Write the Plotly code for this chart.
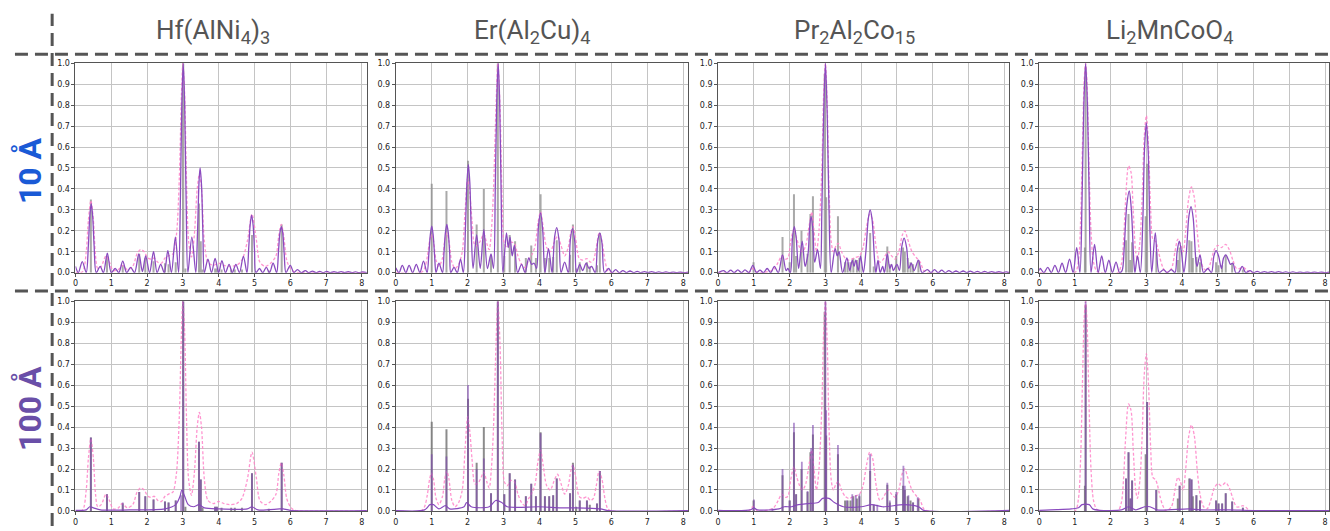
import plotly.graph_objects as go

# ---------------- data ----------------
materials = ["Hf(AlNi<sub>4</sub>)<sub>3</sub>", "Er(Al<sub>2</sub>Cu)<sub>4</sub>",
             "Pr<sub>2</sub>Al<sub>2</sub>Co<sub>15</sub>", "Li<sub>2</sub>MnCoO<sub>4</sub>"]
row_labels = ["10 Å", "100 Å"]
x_ticks = [0, 1, 2, 3, 4, 5, 6, 7, 8]
y_ticks = [0.0, 0.1, 0.2, 0.3, 0.4, 0.5, 0.6, 0.7, 0.8, 0.9, 1.0]

# reference sticks (gray) : (position, height)
hf_sticks = [(0.43,0.35),(0.88,0.08),(1.32,0.035),(1.78,0.09),(1.95,0.07),(2.18,0.055),(2.5,0.045),(2.6,0.04),
             (2.8,0.05),(3.01,1.0),(3.07,0.02),(3.45,0.33),(3.5,0.15),(3.55,0.015),(3.9,0.02),(3.95,0.02),
             (4.08,0.015),(4.35,0.015),(4.45,0.015),(4.65,0.015),(4.93,0.18),(5.4,0.01),(5.76,0.23)]
er_sticks = [(1.0,0.425),(1.41,0.39),(2.01,0.535),(2.25,0.23),(2.45,0.4),(2.65,0.085),(2.84,1.0),(3.02,0.08),
             (3.17,0.18),(3.32,0.15),(3.62,0.07),(3.77,0.13),(3.9,0.07),(4.03,0.375),(4.15,0.07),(4.27,0.07),
             (4.38,0.075),(4.48,0.155),(4.85,0.085),(4.93,0.23),(5.02,0.02),(5.12,0.05),(5.32,0.05),(5.4,0.03),
             (5.6,0.035),(5.68,0.19)]
pr_sticks = [(0.99,0.05),(1.8,0.17),(2.0,0.05),(2.12,0.375),(2.18,0.08),(2.33,0.2),(2.5,0.09),(2.58,0.28),
             (2.65,0.365),(2.98,0.95),(3.02,0.36),(3.35,0.27),(3.55,0.05),(3.62,0.05),(3.7,0.05),(3.78,0.07),
             (3.88,0.06),(3.95,0.07),(4.25,0.19),(4.35,0.03),(4.73,0.125),(4.8,0.04),(4.98,0.08),(5.17,0.12),
             (5.22,0.1),(5.3,0.07),(5.38,0.05),(5.45,0.04),(5.6,0.06)]
li_sticks = [(1.28,0.12),(1.3,0.98),(2.43,0.155),(2.5,0.28),(2.55,0.06),(2.6,0.145),(2.98,0.27),(3.02,0.52),
             (3.28,0.1),(3.88,0.06),(3.93,0.12),(4.2,0.155),(4.26,0.15),(4.3,0.07),(4.4,0.075),(4.5,0.05),
             (4.95,0.05),(5.02,0.035),(5.12,0.035),(5.22,0.085),(5.4,0.045),(5.7,0.015)]

# broad reference curve (pink dashed) : (x, y)
hf_pink = [(0,0),(0.2,0.005),(0.3,0.1),(0.36,0.25),(0.43,0.345),(0.5,0.25),(0.56,0.08),(0.62,0.02),(0.72,0.03),
           (0.85,0.08),(0.95,0.05),(1.05,0.01),(1.2,0.015),(1.3,0.035),(1.45,0.015),(1.6,0.03),(1.72,0.09),
           (1.82,0.11),(1.92,0.1),(2.02,0.07),(2.12,0.065),(2.2,0.07),(2.3,0.05),(2.4,0.045),(2.5,0.07),(2.6,0.08),
           (2.72,0.09),(2.82,0.18),(2.9,0.45),(2.96,0.85),(3.0,1.0),(3.05,0.85),(3.1,0.45),(3.16,0.15),(3.24,0.075),
           (3.32,0.18),(3.4,0.4),(3.46,0.47),(3.52,0.4),(3.6,0.15),(3.7,0.05),(3.85,0.035),(4.0,0.045),(4.15,0.035),
           (4.3,0.03),(4.5,0.035),(4.65,0.06),(4.8,0.15),(4.93,0.28),(5.05,0.16),(5.15,0.05),(5.3,0.03),(5.45,0.045),
           (5.6,0.08),(5.68,0.18),(5.75,0.23),(5.82,0.17),(5.9,0.06),(6.0,0.02),(6.1,0.005),(6.3,0),(8.14,0)]
er_pink = [(0,0),(0.7,0),(0.8,0.02),(0.88,0.08),(0.94,0.15),(0.99,0.18),(1.05,0.15),(1.12,0.06),(1.2,0.03),
           (1.3,0.07),(1.36,0.15),(1.42,0.19),(1.48,0.15),(1.56,0.05),(1.65,0.02),(1.75,0.04),(1.85,0.1),(1.93,0.3),
           (2.0,0.45),(2.06,0.38),(2.12,0.25),(2.2,0.13),(2.27,0.13),(2.35,0.15),(2.45,0.185),(2.53,0.14),(2.6,0.11),
           (2.66,0.2),(2.72,0.4),(2.79,0.8),(2.84,1.0),(2.9,0.8),(2.96,0.35),(3.02,0.14),(3.1,0.12),(3.2,0.145),
           (3.3,0.14),(3.4,0.08),(3.5,0.04),(3.6,0.025),(3.7,0.06),(3.8,0.09),(3.88,0.13),(3.96,0.24),(4.03,0.29),
           (4.1,0.22),(4.2,0.12),(4.3,0.1),(4.4,0.14),(4.5,0.175),(4.6,0.13),(4.7,0.08),(4.8,0.12),(4.87,0.19),
           (4.93,0.22),(5.0,0.17),(5.1,0.07),(5.2,0.06),(5.32,0.067),(5.42,0.05),(5.5,0.06),(5.58,0.12),(5.66,0.19),
           (5.74,0.15),(5.82,0.06),(5.9,0.01),(6.0,0),(8.14,0)]
pr_pink = [(0,0),(0.85,0),(0.97,0.02),(1.1,0.0),(1.4,0.005),(1.55,0.015),(1.68,0.05),(1.78,0.08),(1.88,0.065),
           (1.95,0.07),(2.03,0.15),(2.12,0.21),(2.2,0.16),(2.28,0.12),(2.36,0.1),(2.45,0.13),(2.55,0.23),(2.62,0.29),
           (2.68,0.2),(2.75,0.1),(2.82,0.2),(2.9,0.5),(2.95,0.85),(3.0,1.0),(3.05,0.8),(3.1,0.4),(3.16,0.15),
           (3.22,0.1),(3.3,0.13),(3.36,0.14),(3.45,0.1),(3.55,0.07),(3.65,0.06),(3.8,0.07),(3.95,0.08),(4.05,0.12),
           (4.15,0.22),(4.24,0.28),(4.32,0.25),(4.42,0.12),(4.52,0.05),(4.6,0.06),(4.75,0.1),(4.85,0.08),(4.95,0.065),
           (5.05,0.1),(5.15,0.18),(5.22,0.2),(5.3,0.16),(5.42,0.1),(5.55,0.07),(5.65,0.05),(5.75,0.01),(5.85,0),(8.14,0)]
li_pink = [(0,0),(1.0,0),(1.1,0.06),(1.16,0.25),(1.21,0.6),(1.26,0.92),(1.3,1.0),(1.34,0.9),(1.39,0.55),(1.45,0.2),
           (1.52,0.05),(1.6,0.01),(1.7,0),(2.2,0),(2.3,0.04),(2.36,0.15),(2.42,0.35),(2.5,0.51),(2.57,0.48),(2.63,0.3),
           (2.7,0.1),(2.75,0.06),(2.82,0.15),(2.88,0.35),(2.94,0.65),(3.0,0.75),(3.06,0.6),(3.12,0.3),(3.18,0.16),
           (3.25,0.15),(3.3,0.13),(3.38,0.07),(3.45,0.03),(3.55,0.0),(3.7,0.02),(3.8,0.1),(3.88,0.16),(3.95,0.14),
           (4.03,0.1),(4.1,0.2),(4.18,0.35),(4.26,0.41),(4.34,0.36),(4.42,0.2),(4.5,0.08),(4.6,0.02),(4.7,0.01),
           (4.8,0.05),(4.9,0.11),(5.0,0.13),(5.1,0.12),(5.22,0.135),(5.32,0.11),(5.42,0.06),(5.52,0.02),(5.62,0.02),
           (5.7,0.025),(5.8,0.015),(5.9,0),(8.11,0)]

# 10 Å predicted curve (purple, ripple) : (x, y)
hf_p10 = [(0.0,0.03),(0.08,0.0),(0.19,0.053),(0.3,0.0),(0.36,0.13),(0.4,0.27),(0.44,0.33),(0.48,0.27),(0.52,0.13),
          (0.58,0.0),(0.69,0.03),(0.78,0.0),(0.89,0.093),(1.0,0.0),(1.11,0.02),(1.21,0.0),(1.32,0.055),(1.43,0.0),
          (1.54,0.025),(1.65,0.0),(1.77,0.09),(1.87,0.005),(1.96,0.08),(2.07,0.0),(2.18,0.1),(2.28,0.0),(2.38,0.04),
          (2.48,0.0),(2.58,0.105),(2.68,0.0),(2.79,0.17),(2.88,0.0),(2.93,0.35),(2.97,0.8),(3.01,1.0),(3.05,0.8),
          (3.09,0.35),(3.14,0.0),(3.25,0.17),(3.36,0.0),(3.41,0.2),(3.45,0.43),(3.48,0.5),(3.52,0.42),(3.56,0.18),
          (3.6,0.0),(3.7,0.065),(3.8,0.0),(3.9,0.068),(4.0,0.0),(4.09,0.058),(4.19,0.0),(4.29,0.04),(4.38,0.0),
          (4.48,0.04),(4.58,0.0),(4.69,0.078),(4.79,0.0),(4.84,0.12),(4.88,0.23),(4.92,0.275),(4.96,0.23),(5.0,0.11),
          (5.04,0.0),(5.14,0.02),(5.23,0.0),(5.33,0.025),(5.42,0.0),(5.52,0.045),(5.62,0.0),(5.67,0.1),(5.71,0.19),
          (5.75,0.22),(5.79,0.19),(5.83,0.09),(5.88,0.0),(6.0,0.035),(6.1,0.0),(6.2,0.015),(6.31,0.0),(6.42,0.01),
          (6.52,0.0),(6.62,0.007),(6.72,0),(6.82,0.006),(6.92,0),(7.02,0.006),(7.12,0),(7.22,0.005),(7.32,0),
          (7.42,0.005),(7.52,0),(7.62,0.005),(7.72,0),(7.82,0.004),(7.92,0),(8.02,0.004),(8.14,0)]
er_p10 = [(0.0,0.023),(0.09,0),(0.18,0.035),(0.28,0),(0.37,0.035),(0.47,0),(0.57,0.04),(0.67,0),(0.77,0.055),
          (0.87,0),(0.92,0.09),(0.96,0.18),(1.0,0.222),(1.04,0.18),(1.08,0.08),(1.12,0),(1.2,0.045),(1.3,0),
          (1.34,0.09),(1.38,0.19),(1.42,0.23),(1.46,0.19),(1.5,0.09),(1.53,0),(1.62,0.025),(1.71,0),(1.8,0.065),
          (1.88,0),(1.94,0.22),(1.98,0.43),(2.02,0.516),(2.06,0.43),(2.1,0.2),(2.15,0.02),(2.25,0.18),(2.35,0.02),
          (2.45,0.205),(2.55,0.02),(2.65,0.09),(2.72,0.02),(2.77,0.42),(2.81,0.82),(2.85,1.0),(2.89,0.82),(2.93,0.4),
          (2.98,0.0),(3.08,0.19),(3.13,0.12),(3.18,0.17),(3.24,0.08),(3.3,0.13),(3.39,0),(3.5,0.04),(3.6,0),
          (3.7,0.07),(3.78,0.04),(3.85,0.045),(3.92,0.02),(3.97,0.22),(4.03,0.285),(4.09,0.2),(4.15,0),(4.25,0.115),
          (4.35,0.0),(4.42,0.17),(4.48,0.215),(4.54,0.16),(4.6,0.0),(4.7,0.05),(4.8,0.0),(4.86,0.16),(4.92,0.21),
          (4.98,0.15),(5.03,0.0),(5.12,0.04),(5.2,0.01),(5.3,0.045),(5.38,0.02),(5.45,0.03),(5.55,0.0),(5.62,0.15),
          (5.68,0.19),(5.74,0.14),(5.81,0.0),(5.92,0.02),(6.02,0),(6.12,0.015),(6.22,0),(6.32,0.01),(6.42,0),
          (6.52,0.008),(6.62,0),(6.72,0.006),(6.82,0),(6.92,0.005),(7.02,0),(7.12,0.005),(7.22,0),(7.32,0.004),
          (7.42,0),(7.52,0.004),(7.62,0),(7.72,0.003),(7.82,0),(7.92,0.003),(8.02,0),(8.14,0.003)]
pr_p10 = [(0.0,0.0),(0.15,0.01),(0.25,0),(0.35,0.012),(0.45,0),(0.55,0.013),(0.65,0),(0.75,0.013),(0.86,0),
          (0.97,0.035),(1.07,0),(1.17,0.012),(1.27,0),(1.37,0.02),(1.47,0),(1.57,0.03),(1.68,0),(1.8,0.085),
          (1.9,0.01),(1.95,0.02),(2.02,0.0),(2.08,0.17),(2.13,0.22),(2.18,0.17),(2.25,0.02),(2.35,0.15),(2.43,0.03),
          (2.48,0.06),(2.52,0.1),(2.56,0.22),(2.6,0.27),(2.65,0.2),(2.7,0.05),(2.78,0.11),(2.86,0.02),(2.9,0.3),
          (2.95,0.75),(3.0,1.0),(3.05,0.75),(3.1,0.3),(3.16,0.0),(3.27,0.115),(3.33,0.08),(3.38,0.1),(3.48,0.0),
          (3.6,0.07),(3.68,0.01),(3.75,0.06),(3.8,0.03),(3.85,0.06),(3.92,0.01),(3.98,0.08),(4.06,0.0),(4.13,0.1),
          (4.2,0.26),(4.25,0.3),(4.3,0.26),(4.37,0.07),(4.41,0.0),(4.47,0.06),(4.53,0.0),(4.6,0.03),(4.65,0.0),
          (4.73,0.09),(4.8,0.02),(4.85,0.04),(4.9,0.01),(5.0,0.04),(5.07,0.01),(5.13,0.12),(5.2,0.165),(5.27,0.12),
          (5.33,0.02),(5.4,0.045),(5.48,0.01),(5.6,0.06),(5.7,0.0),(5.85,0.015),(5.95,0),(6.05,0.015),(6.15,0),
          (6.25,0.012),(6.35,0),(6.45,0.01),(6.55,0),(6.65,0.008),(6.75,0),(6.85,0.008),(6.95,0),(7.05,0.007),
          (7.15,0),(7.25,0.006),(7.35,0),(7.45,0.006),(7.55,0),(7.65,0.005),(7.75,0),(7.85,0.005),(7.95,0),
          (8.05,0.004),(8.14,0)]
li_p10 = [(0.0,0.01),(0.03,0.02),(0.13,0),(0.24,0.025),(0.34,0),(0.44,0.035),(0.54,0),(0.64,0.045),(0.74,0),
          (0.85,0.065),(0.95,0),(1.05,0.12),(1.14,0),(1.2,0.35),(1.25,0.8),(1.3,1.0),(1.35,0.8),(1.4,0.35),(1.45,0),
          (1.55,0.135),(1.65,0),(1.75,0.08),(1.85,0),(1.95,0.06),(2.05,0),(2.15,0.05),(2.25,0),(2.32,0.01),
          (2.38,0.12),(2.45,0.32),(2.52,0.39),(2.58,0.3),(2.65,0.05),(2.68,0.0),(2.75,0.08),(2.83,0.0),(2.9,0.25),
          (2.95,0.6),(3.0,0.715),(3.05,0.58),(3.1,0.2),(3.15,0.0),(3.25,0.19),(3.36,0.0),(3.48,0.015),(3.58,0),
          (3.7,0.015),(3.8,0.0),(3.86,0.1),(3.92,0.15),(3.98,0.1),(4.05,0.0),(4.12,0.1),(4.19,0.27),(4.25,0.315),
          (4.31,0.26),(4.39,0.05),(4.42,0.03),(4.5,0.085),(4.6,0.0),(4.72,0.02),(4.82,0.0),(4.89,0.08),(4.95,0.105),
          (5.02,0.08),(5.1,0.02),(5.16,0.07),(5.22,0.085),(5.3,0.06),(5.35,0.04),(5.42,0.045),(5.5,0.0),(5.58,0.0),
          (5.68,0.03),(5.78,0.0),(5.9,0.01),(6.0,0),(6.1,0.006),(6.2,0),(6.3,0.005),(6.4,0),(6.5,0.005),(6.6,0),
          (6.7,0.005),(6.8,0),(6.9,0.004),(7.0,0),(7.1,0.004),(7.2,0),(7.3,0.003),(7.4,0),(7.5,0.003),(7.6,0),
          (7.7,0.003),(7.8,0),(7.9,0.003),(8.0,0),(8.11,0.003)]

# 100 Å predicted peaks (purple, narrow) : (position, height)
hf_p100 = [(0.43,0.35),(0.88,0.08),(1.32,0.04),(1.78,0.09),(1.95,0.07),(2.18,0.055),(2.5,0.045),(2.6,0.04),
           (2.8,0.05),(2.95,0.075),(3.01,1.0),(3.45,0.33),(3.5,0.15),(3.9,0.02),(3.95,0.02),(4.93,0.18),(5.76,0.23)]
er_p100 = [(1.0,0.27),(1.41,0.26),(2.01,0.6),(2.25,0.2),(2.45,0.25),(2.65,0.085),(2.84,1.0),(3.02,0.08),(3.17,0.18),
           (3.32,0.15),(3.62,0.07),(3.77,0.13),(3.9,0.07),(4.03,0.37),(4.15,0.07),(4.27,0.07),(4.38,0.075),
           (4.48,0.155),(4.85,0.085),(4.93,0.22),(5.12,0.05),(5.32,0.05),(5.6,0.035),(5.68,0.19)]
pr_p100 = [(1.0,0.055),(1.52,0.012),(1.8,0.2),(2.0,0.05),(2.12,0.42),(2.18,0.08),(2.34,0.235),(2.5,0.095),(2.6,0.3),
           (2.65,0.41),(3.0,1.0),(3.02,0.48),(3.35,0.315),(3.6,0.05),(3.75,0.08),(3.85,0.075),(3.95,0.08),(4.25,0.27),
           (4.35,0.03),(4.45,0.03),(4.73,0.135),(4.8,0.05),(4.98,0.09),(5.18,0.215),(5.22,0.12),(5.32,0.075),
           (5.45,0.04),(5.58,0.065)]
li_p100 = [(1.3,1.0),(2.43,0.155),(2.5,0.28),(2.56,0.06),(2.6,0.145),(3.02,0.52),(3.27,0.1),(3.93,0.12),(4.22,0.155),
           (4.27,0.15),(4.4,0.075),(4.5,0.05),(4.95,0.05),(5.02,0.035),(5.12,0.035),(5.22,0.085),(5.4,0.045),(5.7,0.015)]

# 100 Å predicted curve baseline (purple tails) : (x, y)
hf_base100 = [(0,0.003),(0.3,0.005),(0.4,0.02),(0.5,0.015),(0.7,0.005),(1.5,0.005),(2.5,0.01),(2.8,0.03),(2.92,0.07),
              (2.97,0.1),(3.05,0.07),(3.15,0.03),(3.3,0.02),(3.45,0.03),(3.6,0.015),(4.0,0.01),(4.8,0.01),(4.93,0.02),
              (5.1,0.005),(5.7,0.01),(5.8,0.01),(6.0,0.003),(8.14,0.002)]
er_base100 = [(0,0.002),(0.8,0.005),(0.95,0.03),(1.05,0.03),(1.2,0.01),(1.38,0.025),(1.5,0.01),(1.9,0.02),
              (1.97,0.04),(2.1,0.02),(2.6,0.02),(2.78,0.05),(2.95,0.04),(3.1,0.02),(4.0,0.02),(4.6,0.015),(5.0,0.015),
              (5.7,0.01),(5.9,0.002),(8.14,0.002)]
pr_base100 = [(0,0.003),(0.9,0.005),(1.0,0.015),(1.1,0.005),(1.7,0.01),(1.85,0.02),(2.05,0.02),(2.25,0.03),
              (2.5,0.035),(2.8,0.04),(2.92,0.06),(3.1,0.06),(3.25,0.04),(3.5,0.02),(4.0,0.02),(4.3,0.03),(4.6,0.02),
              (5.2,0.03),(5.6,0.02),(5.75,0.003),(8.14,0.003)]
li_base100 = [(0,0.003),(0.5,0.006),(0.9,0.01),(1.1,0.015),(1.2,0.03),(1.4,0.03),(1.5,0.01),(1.7,0.003),(2.3,0.005),
              (2.5,0.02),(2.7,0.005),(2.95,0.02),(3.1,0.02),(3.3,0.005),(4.2,0.01),(4.5,0.005),(5.3,0.005),
              (6.0,0.002),(8.11,0.002)]

sticks = [hf_sticks, er_sticks, pr_sticks, li_sticks]
pinks = [hf_pink, er_pink, pr_pink, li_pink]
p10 = [hf_p10, er_p10, pr_p10, li_p10]
p100 = [hf_p100, er_p100, pr_p100, li_p100]
base100 = [hf_base100, er_base100, pr_base100, li_base100]
x_max = [8.14, 8.14, 8.14, 8.11]

# ---------------- styling ----------------
W, H = 1330, 531
col_px = [(72.7, 365.0), (394.0, 687.3), (717.3, 1009.3), (1039.3, 1330.0)]
row_px = [(60.3, 273.3), (302.3, 515.7)]
title_cx = [210.5, 531.0, 854.0, 1171.0]
PURPLE = "#8a4bbf"
PINK = "rgba(255,130,200,0.85)"
GRAY10 = "rgba(140,140,140,0.75)"
GRAY100 = "rgba(120,120,120,0.85)"
PURPLE100 = "rgba(125,70,175,0.6)"
GRID = "#c4c4c4"
FRAME = "#555555"


def stick_xy(pairs):
    xs, ys = [], []
    for x, h in pairs:
        xs += [x, x, None]
        ys += [0, h, None]
    return xs, ys


def split(pairs):
    return [p[0] for p in pairs], [p[1] for p in pairs]


fig = go.Figure()
layout = dict(width=W, height=H, margin=dict(l=0, r=0, t=0, b=0),
              paper_bgcolor="white", plot_bgcolor="white", showlegend=False)

for r in range(2):
    for c in range(4):
        k = r * 4 + c + 1
        xa = "x" if k == 1 else f"x{k}"
        ya = "y" if k == 1 else f"y{k}"
        x0, x1 = col_px[c]
        top, bot = row_px[r]
        common = dict(showgrid=True, gridcolor=GRID, gridwidth=1, showline=True, mirror=True,
                      linecolor=FRAME, linewidth=1, ticks="outside", ticklen=3, tickcolor=FRAME,
                      tickfont=dict(family="DejaVu Sans", size=8, color="#222"), zeroline=False,
                      fixedrange=True)
        layout["xaxis" if k == 1 else f"xaxis{k}"] = dict(
            domain=[x0 / W, x1 / W], range=[0, x_max[c]], tickvals=x_ticks,
            anchor=ya, **common)
        layout["yaxis" if k == 1 else f"yaxis{k}"] = dict(
            domain=[(H - bot) / H, (H - top) / H], range=[0, 1], tickvals=y_ticks,
            tickformat=".1f", anchor=xa, **common)

        sx, sy = stick_xy(sticks[c])
        fig.add_trace(go.Scatter(x=sx, y=sy, mode="lines", xaxis=xa, yaxis=ya,
                                 line=dict(color=GRAY10 if r == 0 else GRAY100, width=2),
                                 hoverinfo="skip"))
        px_, py_ = split(pinks[c])
        fig.add_trace(go.Scatter(x=px_, y=py_, mode="lines", xaxis=xa, yaxis=ya,
                                 line=dict(color=PINK, width=1.3, dash="3px,2px", shape="spline",
                                           smoothing=0.8), hoverinfo="skip"))
        if r == 0:
            qx, qy = split(p10[c])
            fig.add_trace(go.Scatter(x=qx, y=qy, mode="lines", xaxis=xa, yaxis=ya,
                                     line=dict(color=PURPLE, width=1.3, shape="spline", smoothing=0.9),
                                     hoverinfo="skip"))
        else:
            bx, by = split(base100[c])
            fig.add_trace(go.Scatter(x=bx, y=by, mode="lines", xaxis=xa, yaxis=ya,
                                     line=dict(color=PURPLE, width=1.2, shape="spline", smoothing=0.8),
                                     hoverinfo="skip"))
            qx, qy = stick_xy(p100[c])
            fig.add_trace(go.Scatter(x=qx, y=qy, mode="lines", xaxis=xa, yaxis=ya,
                                     line=dict(color=PURPLE100, width=1.8), hoverinfo="skip"))

annotations = []
for c, name in enumerate(materials):
    annotations.append(dict(text=name, x=title_cx[c] / W, y=(H - 28) / H, xref="paper", yref="paper",
                            xanchor="center", yanchor="middle", showarrow=False,
                            font=dict(family="Roboto", size=26, color="#555555")))
row_colors = ["#1a5ad6", "#6a4fa8"]
row_centers = [169, 411]
for r, lab in enumerate(row_labels):
    annotations.append(dict(text=f"<b>{lab}</b>", x=26 / W, y=(H - row_centers[r]) / H, xref="paper",
                            yref="paper", xanchor="center", yanchor="middle", textangle=-90,
                            showarrow=False, font=dict(family="Roboto", size=32, color=row_colors[r])))
layout["annotations"] = annotations

dash_line = dict(color="#555555", width=3, dash="13px,7px")
layout["shapes"] = [
    dict(type="line", xref="paper", yref="paper", x0=12 / W, x1=1.0, y0=(H - 51) / H, y1=(H - 51) / H,
         line=dash_line),
    dict(type="line", xref="paper", yref="paper", x0=12 / W, x1=1.0, y0=(H - 292) / H, y1=(H - 292) / H,
         line=dash_line),
    dict(type="line", xref="paper", yref="paper", x0=49.3 / W, x1=49.3 / W, y0=0, y1=(H - 10) / H,
         line=dash_line),
]

fig.update_layout(**layout)
fig.write_html("out.html")
